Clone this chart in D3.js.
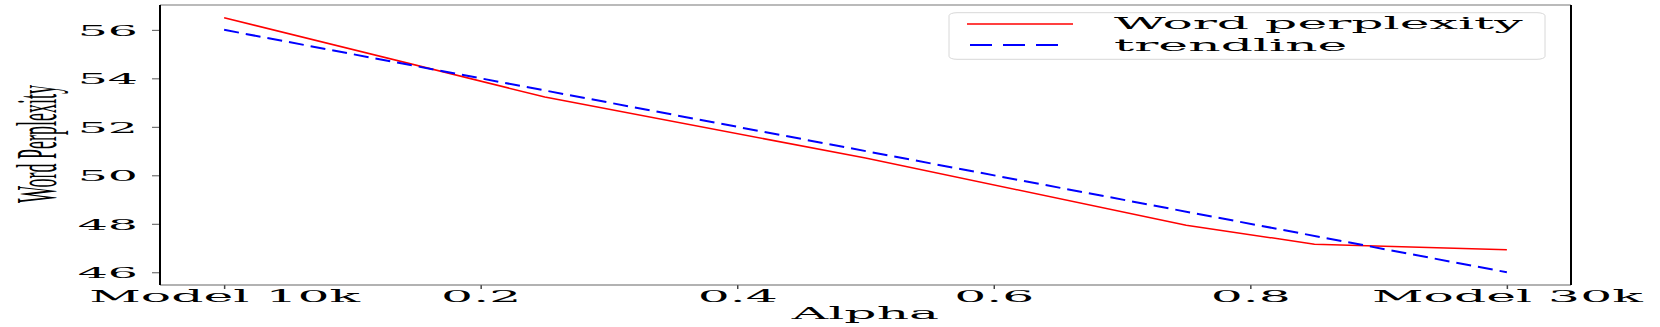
<!DOCTYPE html>
<html>
<head>
<meta charset="utf-8">
<script src="https://cdn.jsdelivr.net/npm/d3@7"></script>
<style>
  html, body { margin: 0; padding: 0; background: #fff; }
  svg { display: block; }
</style>
</head>
<body>
<svg id="chart" width="1660" height="327"></svg>
<script>
// ---- data ----
const alphas = [0, 0.25, 0.5, 0.75, 0.85, 1.0];
const wordPerplexity = [56.5, 53.23, 50.71, 47.94, 47.16, 46.93];
const trendX = [0, 1.0];
const trendline = [56.0, 46.0];
const xTickValues = [0, 0.2, 0.4, 0.6, 0.8, 1.0];
const xTickLabels = ["Model 10k", "0.2", "0.4", "0.6", "0.8", "Model 30k"];
const yTickValues = [46, 48, 50, 52, 54, 56];
const seriesNames = ["Word perplexity", "trendline"];
const xLabel = "Alpha";
const yLabel = "Word Perplexity";

// ---- layout ----
const W = 1660, H = 327;
const L = 160, R = 1571, T = 5, B = 285;
const FONT = "'DejaVu Serif', serif";

const svg = d3.select("#chart");

// horizontal stretch of the original picture, derived from the legend text width
const probe = svg.append("text").attr("font-family", FONT).attr("font-size", 16.5).text(seriesNames[0]);
const SX = 409 / probe.node().getComputedTextLength();
probe.remove();

const x = d3.scaleLinear().domain([-0.05, 1.05]).range([L, R]);
const y = d3.scaleLinear().domain([45.475, 57.025]).range([B, T]);

// lines
const pts = alphas.map((a, i) => [a, wordPerplexity[i]]);
const tpts = trendX.map((a, i) => [a, trendline[i]]);
const line = d3.line().x(d => x(d[0])).y(d => y(d[1]));

svg.append("path").datum(pts).attr("d", line)
  .attr("fill", "none").attr("stroke", "#ff0000").attr("stroke-width", 1.5);
svg.append("path").datum(tpts).attr("d", line)
  .attr("fill", "none").attr("stroke", "#0000ff").attr("stroke-width", 2)
  .attr("stroke-dasharray", "15,7");

// axes
const xAxis = d3.axisBottom(x).tickValues(xTickValues)
  .tickFormat((d, i) => xTickLabels[i]).tickSize(4).tickSizeOuter(0);
const gx = svg.append("g").attr("transform", `translate(0,${B})`).call(xAxis);
gx.select(".domain").remove();
gx.selectAll(".tick line").attr("stroke", "#444").attr("stroke-width", 1.5);
gx.selectAll(".tick text")
  .attr("y", null).attr("dy", null)
  .attr("font-family", FONT).attr("font-size", 16.5).attr("fill", "#000")
  .attr("transform", `translate(0,17) scale(${SX},1)`);

const yAxis = d3.axisLeft(y).tickValues(yTickValues).tickFormat(d3.format("d"))
  .tickSize(8).tickSizeOuter(0);
const gy = svg.append("g").attr("transform", `translate(${L},0)`).call(yAxis);
gy.select(".domain").remove();
gy.selectAll(".tick line").attr("stroke", "#555").attr("stroke-width", 1);
gy.selectAll(".tick text")
  .attr("x", null).attr("dy", null)
  .attr("font-family", FONT).attr("font-size", 15.5).attr("fill", "#000")
  .attr("transform", `translate(-22,5.5) scale(${SX},1)`);

// spines
svg.append("line").attr("x1", L).attr("x2", R).attr("y1", T).attr("y2", T).attr("stroke", "#777").attr("stroke-width", 1.2);
svg.append("line").attr("x1", L).attr("x2", R).attr("y1", B).attr("y2", B).attr("stroke", "#666").attr("stroke-width", 1.2);
svg.append("line").attr("x1", L).attr("x2", L).attr("y1", T).attr("y2", B).attr("stroke", "#000").attr("stroke-width", 2);
svg.append("line").attr("x1", R).attr("x2", R).attr("y1", T).attr("y2", B).attr("stroke", "#000").attr("stroke-width", 2);

// axis labels
svg.append("text").text(xLabel)
  .attr("font-family", FONT).attr("font-size", 16.5).attr("text-anchor", "middle")
  .attr("transform", `translate(${(L + R) / 2},319) scale(${SX},1)`);
svg.append("text").text(yLabel)
  .attr("font-family", "'Liberation Serif', serif").attr("font-size", 18).attr("text-anchor", "middle")
  .attr("transform", `translate(56,144) scale(${SX * 1.05},1) rotate(-90)`);

// legend
const lg = svg.append("g");
lg.append("rect").attr("x", 949).attr("y", 12.7).attr("width", 596).attr("height", 46.6)
  .attr("rx", 8).attr("ry", 3).attr("fill", "#fff").attr("stroke", "#d8d8d8").attr("stroke-width", 1);
lg.append("line").attr("x1", 967).attr("x2", 1073).attr("y1", 24).attr("y2", 24)
  .attr("stroke", "#ff0000").attr("stroke-width", 1.5);
lg.append("line").attr("x1", 970).attr("x2", 1068).attr("y1", 45).attr("y2", 45)
  .attr("stroke", "#0000ff").attr("stroke-width", 2).attr("stroke-dasharray", "22,11");
lg.selectAll("text.lbl").data(seriesNames).enter().append("text").attr("class", "lbl")
  .text(d => d).attr("font-family", FONT).attr("font-size", 16.5)
  .attr("transform", (d, i) => `translate(1114,${i === 0 ? 29.3 : 50.7}) scale(${SX},1)`);
</script>
</body>
</html>
